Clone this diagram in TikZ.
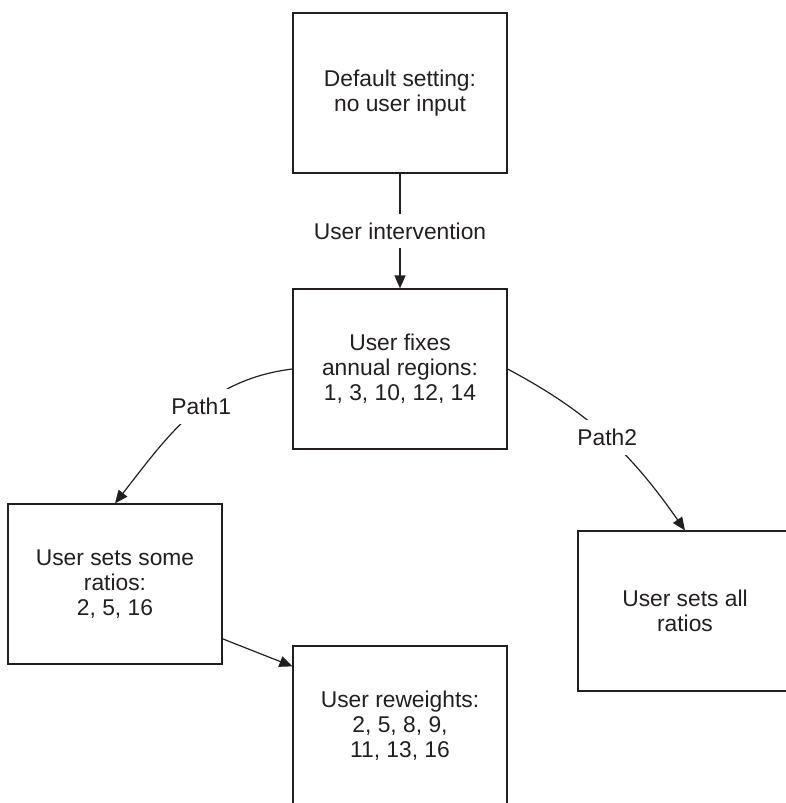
\documentclass[tikz,border=0pt]{standalone}
\usepackage{fontspec}
\setmainfont{Liberation Sans}
\usetikzlibrary{arrows.meta}
\definecolor{ink}{RGB}{35,31,32}

\begin{document}
\begin{tikzpicture}[x=1pt,y=1pt,font=\fontsize{22.8pt}{25pt}\selectfont,
  box/.style={draw=ink,text=ink,line width=1.2pt,minimum width=214pt,minimum height=160pt,align=center,inner sep=0pt},
  flow/.style={draw=ink,line width=1.2pt,-{Triangle[length=13pt,width=11pt]}},
  lbl/.style={fill=white,text=ink,inner sep=9pt}]
\useasboundingbox (0,0) rectangle (786,-803);
\clip (0,0) rectangle (786,-803);

%%% Boxes
\node[box] (default) at (400,-93) {Default setting:\\no user input};
\node[box] (fixes) at (400,-369) {User fixes\\annual regions:\\1, 3, 10, 12, 14};
\node[box] (some) at (115,-584) {User sets some\\ratios:\\2, 5, 16};
\node[box] (all) at (685,-611) {User sets all\\ratios};
\node[box] (reweight) at (400,-726) {User reweights:\\2, 5, 8, 9,\\11, 13, 16};

%%% Arrows
\draw[flow] (default) -- node[lbl] {User intervention} (fixes);
\draw[flow] (fixes.west) to[out=187,in=52] node[lbl,pos=0.44] {Path1} (some.north);
\draw[flow] (fixes.east) to[out=-28,in=125] node[lbl,pos=0.5] {Path2} (all.north);
\draw[flow] (some.-27) -- (reweight.151);
\end{tikzpicture}
\end{document}
